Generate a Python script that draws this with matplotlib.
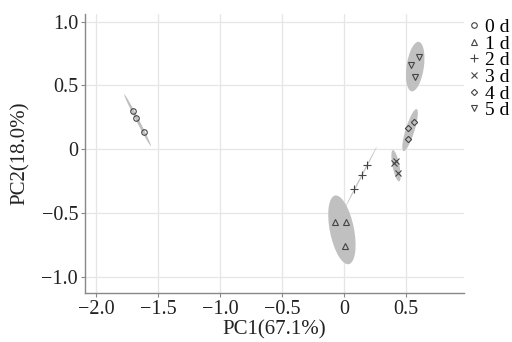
import numpy as np
import matplotlib
matplotlib.use('Agg')
import matplotlib.pyplot as plt
from matplotlib.patches import Ellipse

plt.rcParams['font.family'] = ['Liberation Serif', 'DejaVu Serif']

# PCA scores, one list per storage day
labels = ['0 d', '1 d', '2 d', '3 d', '4 d', '5 d']
markers = ['o', '^', '+', 'x', 'D', 'v']
msizes = [4, 4, 5.5, 4.5, 3.2, 4]

pc1_0d = [-1.700, -1.680, -1.615]
pc2_0d = [0.300, 0.243, 0.136]
pc1_1d = [-0.067, 0.014, 0.008]
pc2_1d = [-0.570, -0.570, -0.761]
pc1_2d = [0.188, 0.151, 0.086]
pc2_2d = [-0.125, -0.202, -0.316]
pc1_3d = [0.405, 0.425, 0.435]
pc2_3d = [-0.110, -0.094, -0.188]
pc1_4d = [0.565, 0.522, 0.519]
pc2_4d = [0.209, 0.162, 0.076]
pc1_5d = [0.607, 0.546, 0.578]
pc2_5d = [0.719, 0.661, 0.562]

pc1 = [pc1_0d, pc1_1d, pc1_2d, pc1_3d, pc1_4d, pc1_5d]
pc2 = [pc2_0d, pc2_1d, pc2_2d, pc2_3d, pc2_4d, pc2_5d]

xticks = [-2.0, -1.5, -1.0, -0.5, 0, 0.5]
xticklabels = ['\u22122.0', '\u22121.5', '\u22121.0', '\u22120.5', '0', '0.5']
yticks = [-1.0, -0.5, 0, 0.5, 1.0]
yticklabels = ['\u22121.0', '\u22120.5', '0', '0.5', '1.0']


def conf_ellipse(x, y, ax, chi2=5.991, **kw):
    # 95% normal confidence ellipse from the group covariance
    cov = np.cov(x, y)
    vals, vecs = np.linalg.eigh(cov)
    order = vals.argsort()[::-1]
    vals, vecs = vals[order], vecs[:, order]
    angle = np.degrees(np.arctan2(vecs[1, 0], vecs[0, 0]))
    w, h = 2 * np.sqrt(chi2 * np.maximum(vals, 0))
    e = Ellipse((np.mean(x), np.mean(y)), w, h, angle=angle, **kw)
    ax.add_patch(e)


fig = plt.figure(figsize=(5.12, 3.42), dpi=100)
ax = fig.add_axes([0.166, 0.143, 0.740, 0.816])

for i in range(len(labels)):
    conf_ellipse(pc1[i], pc2[i], ax, facecolor='#c0c0c0', edgecolor='none',
                 zorder=2)

for i in range(len(labels)):
    ax.plot(pc1[i], pc2[i], linestyle='none', marker=markers[i],
            markersize=msizes[i], markerfacecolor='none',
            markeredgecolor='#444444', markeredgewidth=0.8, zorder=3,
            label=labels[i])

ax.set_xlim(-2.09, 0.97)
ax.set_ylim(-1.13, 1.06)
ax.set_xticks(xticks)
ax.set_xticklabels(xticklabels)
ax.set_yticks(yticks)
ax.set_yticklabels(yticklabels)
ax.grid(True, color='#e6e6e6', linewidth=0.9, zorder=0)
ax.set_axisbelow(True)

for s in ['top', 'right']:
    ax.spines[s].set_visible(False)
for s in ['left', 'bottom']:
    ax.spines[s].set_color('#888888')
    ax.spines[s].set_linewidth(1.0)
ax.tick_params(colors='#888888', length=3, width=0.8, labelcolor='#222222',
               labelsize=14.5, pad=2)

ax.set_xlabel('PC1(67.1%)', fontsize=15, color='#222222', labelpad=1)
ax.set_ylabel('PC2(18.0%)', fontsize=15, color='#222222', labelpad=8)

# legend sits at the right edge of the figure, outside the panel
leg = fig.legend(*ax.get_legend_handles_labels(), loc='upper right',
                 bbox_to_anchor=(1.0, 0.952), frameon=False, fontsize=14,
                 handlelength=0.5, handletextpad=0.35, labelspacing=-0.05,
                 borderaxespad=0.0, borderpad=0.1)

fig.savefig('out.png', dpi=100)
